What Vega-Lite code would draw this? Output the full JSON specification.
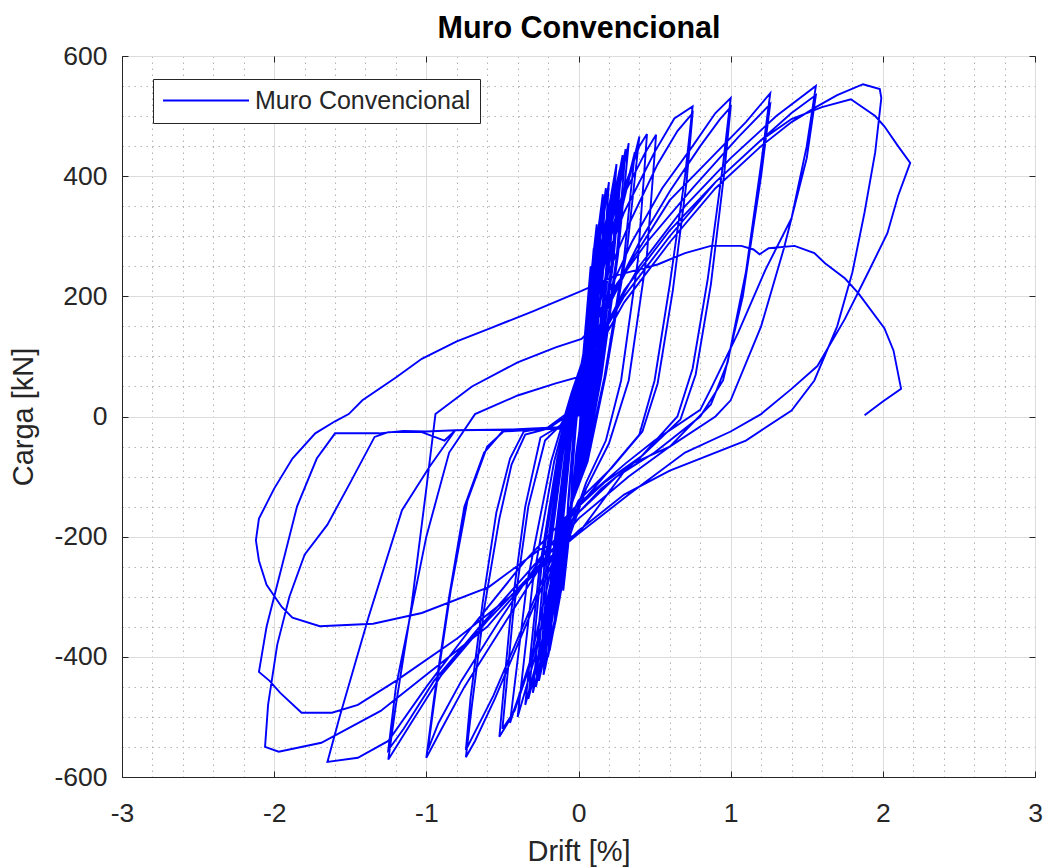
{
  "$schema": "https://vega.github.io/schema/vega-lite/v6.json",
  "width": 913,
  "height": 721,
  "autosize": "none",
  "padding": {"left": 122, "top": 56, "right": 12, "bottom": 90},
  "background": "white",
  "config": {
    "font": "Liberation Sans",
    "view": {"stroke": "#262626", "strokeWidth": 1},
    "axis": {"labelFont": "Liberation Sans", "titleFont": "Liberation Sans", "labelColor": "#262626", "titleColor": "#262626", "labelFontSize": 26.5, "titleFontSize": 29, "titleFontWeight": "normal", "domainColor": "#262626", "tickColor": "#262626", "labelFlush": false, "labelOverlap": false}
  },
  "data": {"values": [
{"d":0,"f":0},
{"d":0.02,"f":55},{"d":0.035,"f":105},{"d":0.05,"f":150},{"d":0.04,"f":95},{"d":0.02,"f":25},{"d":0.005,"f":-25},{"d":-0.015,"f":-60},{"d":-0.035,"f":-120},{"d":-0.05,"f":-150},{"d":-0.038,"f":-85},{"d":-0.02,"f":-25},{"d":-0.005,"f":15},
{"d":0.025,"f":85},{"d":0.055,"f":175},{"d":0.08,"f":250},{"d":0.064,"f":150},{"d":0.036,"f":40},{"d":0.012,"f":-35},{"d":-0.027,"f":-100},{"d":-0.063,"f":-200},{"d":-0.09,"f":-250},{"d":-0.068,"f":-140},{"d":-0.036,"f":-40},{"d":-0.009,"f":25},
{"d":0.03,"f":90},{"d":0.07,"f":190},{"d":0.1,"f":280},{"d":0.085,"f":190},{"d":0.05,"f":70},{"d":0.015,"f":-40},{"d":-0.03,"f":-110},{"d":-0.07,"f":-220},{"d":-0.1,"f":-290},{"d":-0.08,"f":-190},{"d":-0.04,"f":-60},{"d":-0.01,"f":20},
{"d":0.036,"f":110},{"d":0.078,"f":225},{"d":0.12,"f":320},{"d":0.096,"f":190},{"d":0.054,"f":50},{"d":0.018,"f":-45},{"d":-0.039,"f":-120},{"d":-0.091,"f":-240},{"d":-0.13,"f":-300},{"d":-0.098,"f":-165},{"d":-0.052,"f":-45},{"d":-0.013,"f":30},
{"d":0.04,"f":110},{"d":0.1,"f":240},{"d":0.15,"f":345},{"d":0.12,"f":210},{"d":0.065,"f":60},{"d":0.02,"f":-50},{"d":-0.045,"f":-140},{"d":-0.1,"f":-270},{"d":-0.15,"f":-340},{"d":-0.115,"f":-200},{"d":-0.06,"f":-55},{"d":-0.015,"f":30},
{"d":0.048,"f":130},{"d":0.104,"f":260},{"d":0.16,"f":370},{"d":0.128,"f":220},{"d":0.072,"f":55},{"d":0.024,"f":-55},{"d":-0.048,"f":-140},{"d":-0.112,"f":-280},{"d":-0.16,"f":-350},{"d":-0.12,"f":-190},{"d":-0.064,"f":-50},{"d":-0.016,"f":35},
{"d":0.055,"f":135},{"d":0.12,"f":270},{"d":0.18,"f":380},{"d":0.14,"f":220},{"d":0.08,"f":55},{"d":0.025,"f":-55},{"d":-0.055,"f":-160},{"d":-0.13,"f":-310},{"d":-0.19,"f":-390},{"d":-0.14,"f":-215},{"d":-0.075,"f":-60},{"d":-0.02,"f":35},
{"d":0.06,"f":140},{"d":0.13,"f":275},{"d":0.2,"f":390},{"d":0.16,"f":235},{"d":0.09,"f":60},{"d":0.03,"f":-60},{"d":-0.06,"f":-160},{"d":-0.14,"f":-320},{"d":-0.2,"f":-400},{"d":-0.15,"f":-220},{"d":-0.08,"f":-60},{"d":-0.02,"f":40},
{"d":0.065,"f":140},{"d":0.15,"f":285},{"d":0.22,"f":375},{"d":0.175,"f":225},{"d":0.1,"f":60},{"d":0.03,"f":-65},{"d":-0.065,"f":-170},{"d":-0.15,"f":-340},{"d":-0.23,"f":-430},{"d":-0.17,"f":-235},{"d":-0.09,"f":-65},{"d":-0.024,"f":38},
{"d":0.07,"f":135},{"d":0.156,"f":275},{"d":0.24,"f":392},{"d":0.19,"f":235},{"d":0.11,"f":60},{"d":0.036,"f":-60},{"d":-0.066,"f":-170},{"d":-0.154,"f":-335},{"d":-0.22,"f":-420},{"d":-0.165,"f":-230},{"d":-0.088,"f":-65},{"d":-0.022,"f":40},
{"d":0.075,"f":145},{"d":0.16,"f":290},{"d":0.25,"f":420},{"d":0.2,"f":250},{"d":0.11,"f":60},{"d":0.04,"f":-65},{"d":-0.078,"f":-175},{"d":-0.18,"f":-350},{"d":-0.26,"f":-440},{"d":-0.195,"f":-240},{"d":-0.104,"f":-65},{"d":-0.026,"f":40},
{"d":0.08,"f":150},{"d":0.18,"f":300},{"d":0.27,"f":410},{"d":0.215,"f":250},{"d":0.12,"f":62},{"d":0.04,"f":-68},{"d":-0.085,"f":-180},{"d":-0.2,"f":-360},{"d":-0.28,"f":-450},{"d":-0.21,"f":-245},{"d":-0.11,"f":-68},{"d":-0.028,"f":40},
{"d":0.085,"f":150},{"d":0.19,"f":300},{"d":0.29,"f":435},{"d":0.23,"f":260},{"d":0.13,"f":65},{"d":0.045,"f":-70},{"d":-0.09,"f":-185},{"d":-0.21,"f":-365},{"d":-0.3,"f":-460},{"d":-0.225,"f":-250},{"d":-0.12,"f":-70},{"d":-0.03,"f":40},
{"d":0.09,"f":150},{"d":0.2,"f":300},{"d":0.31,"f":445},{"d":0.25,"f":265},{"d":0.14,"f":65},{"d":0.048,"f":-70},{"d":-0.1,"f":-190},{"d":-0.23,"f":-375},{"d":-0.33,"f":-470},{"d":-0.245,"f":-255},{"d":-0.13,"f":-70},{"d":-0.033,"f":40},
{"d":0.1,"f":155},{"d":0.21,"f":310},{"d":0.33,"f":455},{"d":0.26,"f":270},{"d":0.15,"f":65},{"d":0.05,"f":-70},{"d":-0.105,"f":-190},{"d":-0.245,"f":-380},{"d":-0.35,"f":-480},{"d":-0.26,"f":-260},{"d":-0.14,"f":-70},{"d":-0.035,"f":40},
{"d":0.11,"f":155},{"d":0.24,"f":305},{"d":0.37,"f":440},{"d":0.3,"f":265},{"d":0.17,"f":65},{"d":0.055,"f":-70},{"d":-0.12,"f":-200},{"d":-0.28,"f":-395},{"d":-0.4,"f":-500},{"d":-0.3,"f":-275},{"d":-0.16,"f":-75},{"d":-0.04,"f":40},
{"d":0.12,"f":165},{"d":0.26,"f":320},{"d":0.4,"f":466},{"d":0.32,"f":280},{"d":0.18,"f":70},{"d":0.06,"f":-75},{"d":-0.135,"f":-205},{"d":-0.315,"f":-405},{"d":-0.45,"f":-510},{"d":-0.34,"f":-280},{"d":-0.18,"f":-75},{"d":-0.045,"f":40},
{"d":0.05,"f":110},{"d":0.15,"f":250},{"d":0.3,"f":380},{"d":0.4,"f":450},{"d":0.45,"f":470},{"d":0.39,"f":260},{"d":0.28,"f":60},{"d":0.18,"f":-40},{"d":0.05,"f":-110},{"d":-0.1,"f":-220},{"d":-0.3,"f":-400},{"d":-0.42,"f":-490},{"d":-0.5,"f":-520},{"d":-0.43,"f":-330},{"d":-0.33,"f":-150},{"d":-0.22,"f":-40},{"d":-0.1,"f":-10},{"d":-0.03,"f":30},
{"d":0.04,"f":110},{"d":0.14,"f":240},{"d":0.3,"f":370},{"d":0.44,"f":440},{"d":0.51,"f":469},{"d":0.45,"f":270},{"d":0.33,"f":60},{"d":0.2,"f":-45},{"d":0.05,"f":-120},{"d":-0.1,"f":-230},{"d":-0.3,"f":-400},{"d":-0.44,"f":-500},{"d":-0.52,"f":-533},{"d":-0.45,"f":-340},{"d":-0.35,"f":-150},{"d":-0.25,"f":-35},{"d":-0.12,"f":-15},{"d":-0.03,"f":20},
{"d":0.05,"f":130},{"d":0.15,"f":240},{"d":0.3,"f":340},{"d":0.5,"f":440},{"d":0.63,"f":496},{"d":0.75,"f":516},{"d":0.7,"f":400},{"d":0.6,"f":220},{"d":0.5,"f":60},{"d":0.4,"f":-30},{"d":0.2,"f":-90},{"d":0,"f":-150},{"d":-0.2,"f":-260},{"d":-0.4,"f":-380},{"d":-0.55,"f":-470},{"d":-0.68,"f":-540},{"d":-0.74,"f":-567},{"d":-0.7,"f":-480},{"d":-0.62,"f":-320},{"d":-0.52,"f":-170},{"d":-0.44,"f":-80},{"d":-0.35,"f":-30},{"d":-0.2,"f":-20},{"d":-0.05,"f":5},
{"d":0.06,"f":120},{"d":0.18,"f":230},{"d":0.35,"f":330},{"d":0.52,"f":420},{"d":0.65,"f":475},{"d":0.75,"f":505},{"d":0.71,"f":390},{"d":0.62,"f":210},{"d":0.52,"f":55},{"d":0.42,"f":-25},{"d":0.22,"f":-85},{"d":0,"f":-140},{"d":-0.2,"f":-250},{"d":-0.4,"f":-370},{"d":-0.56,"f":-465},{"d":-0.69,"f":-530},{"d":-0.74,"f":-555},{"d":-0.71,"f":-470},{"d":-0.63,"f":-310},{"d":-0.54,"f":-160},{"d":-0.45,"f":-70},{"d":-0.36,"f":-25},{"d":-0.2,"f":-18},{"d":-0.05,"f":10},
{"d":0.05,"f":90},{"d":0.15,"f":180},{"d":0.35,"f":290},{"d":0.55,"f":380},{"d":0.75,"f":450},{"d":0.9,"f":505},{"d":1.0,"f":530},{"d":0.95,"f":420},{"d":0.85,"f":230},{"d":0.75,"f":80},{"d":0.65,"f":0},{"d":0.4,"f":-70},{"d":0.15,"f":-120},{"d":0,"f":-160},{"d":-0.25,"f":-250},{"d":-0.5,"f":-350},{"d":-0.75,"f":-450},{"d":-0.9,"f":-520},{"d":-1.0,"f":-568},{"d":-0.95,"f":-470},{"d":-0.85,"f":-300},{"d":-0.75,"f":-150},{"d":-0.62,"f":-60},{"d":-0.5,"f":-25},{"d":-0.3,"f":-22},{"d":-0.12,"f":-20},{"d":-0.05,"f":10},
{"d":0.06,"f":85},{"d":0.2,"f":190},{"d":0.4,"f":290},{"d":0.6,"f":375},{"d":0.8,"f":450},{"d":0.93,"f":495},{"d":1.0,"f":515},{"d":0.96,"f":410},{"d":0.87,"f":220},{"d":0.77,"f":70},{"d":0.67,"f":-5},{"d":0.42,"f":-65},{"d":0.17,"f":-110},{"d":0,"f":-150},{"d":-0.27,"f":-245},{"d":-0.52,"f":-340},{"d":-0.77,"f":-440},{"d":-0.92,"f":-510},{"d":-0.99,"f":-555},{"d":-0.94,"f":-460},{"d":-0.84,"f":-290},{"d":-0.73,"f":-140},{"d":-0.6,"f":-50},{"d":-0.48,"f":-22},{"d":-0.3,"f":-20},{"d":-0.12,"f":-18},{"d":-0.05,"f":10},
{"d":0.05,"f":80},{"d":0.15,"f":160},{"d":0.35,"f":260},{"d":0.6,"f":360},{"d":0.87,"f":430},{"d":1.1,"f":490},{"d":1.26,"f":538},{"d":1.2,"f":420},{"d":1.1,"f":240},{"d":0.98,"f":90},{"d":0.87,"f":20},{"d":0.6,"f":-50},{"d":0.33,"f":-100},{"d":0,"f":-170},{"d":-0.3,"f":-260},{"d":-0.6,"f":-340},{"d":-0.9,"f":-430},{"d":-1.1,"f":-510},{"d":-1.25,"f":-571},{"d":-1.2,"f":-480},{"d":-1.1,"f":-320},{"d":-1.0,"f":-120},{"d":-0.94,"f":4},{"d":-0.7,"f":50},{"d":-0.4,"f":90},{"d":-0.15,"f":115},{"d":0.02,"f":129},
{"d":0.1,"f":150},{"d":0.25,"f":220},{"d":0.45,"f":290},{"d":0.75,"f":380},{"d":1.05,"f":465},{"d":1.26,"f":520},{"d":1.2,"f":400},{"d":1.08,"f":200},{"d":0.95,"f":60},{"d":0.8,"f":0},{"d":0.5,"f":-60},{"d":0.25,"f":-100},{"d":0,"f":-160},{"d":-0.3,"f":-250},{"d":-0.65,"f":-350},{"d":-0.95,"f":-440},{"d":-1.15,"f":-520},{"d":-1.25,"f":-555},{"d":-1.2,"f":-450},{"d":-1.0,"f":-200},{"d":-0.85,"f":-60},{"d":-0.68,"f":4},{"d":-0.4,"f":35},{"d":-0.15,"f":55},{"d":0.02,"f":67},
{"d":0.15,"f":140},{"d":0.4,"f":250},{"d":0.7,"f":350},{"d":1.0,"f":430},{"d":1.3,"f":500},{"d":1.56,"f":550},{"d":1.5,"f":450},{"d":1.4,"f":330},{"d":1.23,"f":245},{"d":1.05,"f":140},{"d":0.87,"f":46},{"d":0.8,"f":11},{"d":0.5,"f":-40},{"d":0.31,"f":-78},{"d":0,"f":-145},{"d":-0.35,"f":-240},{"d":-0.7,"f":-350},{"d":-1.0,"f":-450},{"d":-1.25,"f":-540},{"d":-1.45,"f":-568},{"d":-1.65,"f":-575},{"d":-1.57,"f":-500},{"d":-1.38,"f":-334},{"d":-1.16,"f":-156},{"d":-0.98,"f":-84},{"d":-0.81,"f":-23},{"d":-0.5,"f":-22},{"d":-0.13,"f":-20},{"d":-0.03,"f":20},
{"d":0.1,"f":110},{"d":0.3,"f":200},{"d":0.6,"f":300},{"d":0.9,"f":390},{"d":1.2,"f":460},{"d":1.4,"f":505},{"d":1.56,"f":535},{"d":1.5,"f":430},{"d":1.35,"f":280},{"d":1.2,"f":150},{"d":1.0,"f":27},{"d":0.9,"f":0},{"d":0.6,"f":-50},{"d":0.33,"f":-81},{"d":0,"f":-195},{"d":-0.26,"f":-250},{"d":-0.6,"f":-350},{"d":-1.0,"f":-430},{"d":-1.3,"f":-490},{"d":-1.69,"f":-543},{"d":-1.97,"f":-558},{"d":-2.06,"f":-550},{"d":-2.04,"f":-480},{"d":-1.98,"f":-380},{"d":-1.9,"f":-300},{"d":-1.8,"f":-230},{"d":-1.65,"f":-180},{"d":-1.5,"f":-110},{"d":-1.34,"f":-34},{"d":-1.25,"f":-26},{"d":-1.03,"f":-26},{"d":-0.88,"f":-40},{"d":-0.81,"f":-23},{"d":-0.13,"f":-20},{"d":-0.02,"f":30},
{"d":0.1,"f":100},{"d":0.3,"f":190},{"d":0.6,"f":290},{"d":0.9,"f":380},{"d":1.2,"f":450},{"d":1.4,"f":490},{"d":1.56,"f":515},{"d":1.7,"f":535},{"d":1.87,"f":553},{"d":1.98,"f":545},{"d":1.99,"f":530},{"d":1.95,"f":440},{"d":1.88,"f":340},{"d":1.8,"f":240},{"d":1.7,"f":150},{"d":1.55,"f":60},{"d":1.4,"f":10},{"d":1.1,"f":-40},{"d":0.6,"f":-90},{"d":0.3,"f":-130},{"d":0,"f":-190},{"d":-0.4,"f":-290},{"d":-0.8,"f":-370},{"d":-1.2,"f":-440},{"d":-1.45,"f":-480},{"d":-1.62,"f":-493},{"d":-1.82,"f":-493},{"d":-1.96,"f":-460},{"d":-2.03,"f":-440},{"d":-2.1,"f":-425},{"d":-2.05,"f":-350},{"d":-1.95,"f":-250},{"d":-1.85,"f":-150},{"d":-1.72,"f":-70},{"d":-1.6,"f":-28},{"d":-1.31,"f":-28},{"d":-1.15,"f":-24},{"d":-1.0,"f":-25},{"d":-0.81,"f":-23},{"d":-0.13,"f":-20},{"d":-0.02,"f":30},
{"d":0.1,"f":110},{"d":0.3,"f":210},{"d":0.6,"f":310},{"d":0.9,"f":390},{"d":1.2,"f":460},{"d":1.4,"f":495},{"d":1.6,"f":515},{"d":1.79,"f":528},{"d":1.95,"f":500},{"d":2.01,"f":483},{"d":2.1,"f":450},{"d":2.18,"f":422},{"d":2.1,"f":367},{"d":2.03,"f":305},{"d":1.9,"f":238},{"d":1.75,"f":162},{"d":1.57,"f":84},{"d":1.4,"f":46},{"d":1.2,"f":4},{"d":1.0,"f":-25},{"d":0.7,"f":-60},{"d":0.33,"f":-130},{"d":0,"f":-195},{"d":-0.26,"f":-222},{"d":-0.59,"f":-284},{"d":-1.03,"f":-327},{"d":-1.35,"f":-345},{"d":-1.7,"f":-349},{"d":-1.88,"f":-335},{"d":-1.95,"f":-317},{"d":-2.05,"f":-280},{"d":-2.1,"f":-240},{"d":-2.12,"f":-206},{"d":-2.1,"f":-170},{"d":-2.0,"f":-120},{"d":-1.88,"f":-70},{"d":-1.73,"f":-28},{"d":-1.6,"f":-8},{"d":-1.51,"f":4},{"d":-1.42,"f":27},{"d":-1.2,"f":65},{"d":-1.03,"f":96},{"d":-0.8,"f":125},{"d":-0.59,"f":146},{"d":-0.3,"f":175},{"d":0.02,"f":209},{"d":0.25,"f":235},{"d":0.52,"f":253},{"d":0.7,"f":272},{"d":0.87,"f":284},{"d":1.07,"f":284},{"d":1.15,"f":278},{"d":1.19,"f":270},{"d":1.25,"f":280},{"d":1.42,"f":284},{"d":1.55,"f":272},{"d":1.62,"f":255},{"d":1.75,"f":230},{"d":1.84,"f":205},{"d":2.01,"f":147},{"d":2.07,"f":110},{"d":2.12,"f":46},{"d":2.0,"f":25},{"d":1.88,"f":2}
  ]},
  "layer": [
    {
      "mark": {"type": "line", "strokeWidth": 1.9},
      "encoding": {
        "x": {"field": "d", "type": "quantitative", "scale": {"domain": [-3, 3], "nice": false, "zero": false},
              "axis": {"orient": "bottom", "values": [-3,-2.8,-2.6,-2.4,-2.2,-2,-1.8,-1.6,-1.4,-1.2,-1,-0.8,-0.6,-0.4,-0.2,0,0.2,0.4,0.6,0.8,1,1.2,1.4,1.6,1.8,2,2.2,2.4,2.6,2.8,3],
                       "grid": true, "gridWidth": 1,
                       "gridColor": {"condition": {"test": "abs(datum.value - round(datum.value)) > 0.01", "value": "#b4b4b4"}, "value": "#dcdcdc"},
                       "gridDash": {"condition": {"test": "abs(datum.value - round(datum.value)) > 0.01", "value": [1.5, 4.5]}, "value": []},
                       "tickOpacity": {"condition": {"test": "abs(datum.value - round(datum.value)) > 0.01", "value": 0}, "value": 1},
                       "tickSize": -6, "labelPadding": 29,
                       "labelExpr": "abs(datum.value - round(datum.value)) > 0.01 ? '' : '' + datum.value",
                       "title": "Drift [%]", "titlePadding": 11}},
        "y": {"field": "f", "type": "quantitative", "scale": {"domain": [-600, 600], "nice": false, "zero": false},
              "axis": {"orient": "left", "values": [-600,-550,-500,-450,-400,-350,-300,-250,-200,-150,-100,-50,0,50,100,150,200,250,300,350,400,450,500,550,600],
                       "grid": true, "gridWidth": 1,
                       "gridColor": {"condition": {"test": "datum.value % 200 !== 0", "value": "#b4b4b4"}, "value": "#dcdcdc"},
                       "gridDash": {"condition": {"test": "datum.value % 200 !== 0", "value": [1.5, 4.5]}, "value": []},
                       "tickOpacity": {"condition": {"test": "datum.value % 200 !== 0", "value": 0}, "value": 1},
                       "tickSize": -6, "labelPadding": 21,
                       "labelExpr": "datum.value % 200 !== 0 ? '' : '' + datum.value",
                       "title": "Carga [kN]", "titlePadding": 15}},
        "order": {"value": null},
        "color": {"datum": "Muro Convencional", "type": "nominal", "scale": {"range": ["#0000FF"]},
                  "legend": {"orient": "none", "legendX": 31, "legendY": 23, "title": null, "padding": 9, "strokeColor": "#262626", "fillColor": "white", "symbolType": "stroke", "symbolSize": 7396, "symbolStrokeWidth": 2, "clipHeight": 25, "labelFont": "Liberation Sans", "labelFontSize": 25, "labelColor": "#262626", "labelOffset": 5, "labelLimit": 400}}
      }
    },
    {
      "mark": {"type": "line", "opacity": 0},
      "encoding": {
        "x": {"field": "d", "type": "quantitative", "scale": {"domain": [-3, 3], "nice": false, "zero": false},
              "axis": {"orient": "top", "values": [-3,-2,-1,0,1,2,3], "grid": false, "tickSize": -6, "labels": false, "domain": false,
                       "title": "Muro Convencional", "titleFontSize": 30.5, "titleFontWeight": "bold", "titleColor": "#000000", "titleBaseline": "alphabetic", "titlePadding": 18}},
        "y": {"field": "f", "type": "quantitative", "scale": {"domain": [-600, 600], "nice": false, "zero": false},
              "axis": {"orient": "right", "values": [-600,-400,-200,0,200,400,600], "grid": false, "tickSize": -6, "labels": false, "domain": false, "title": null}},
        "order": {"value": null}
      }
    }
  ],
  "resolve": {"axis": {"x": "independent", "y": "independent"}}
}
